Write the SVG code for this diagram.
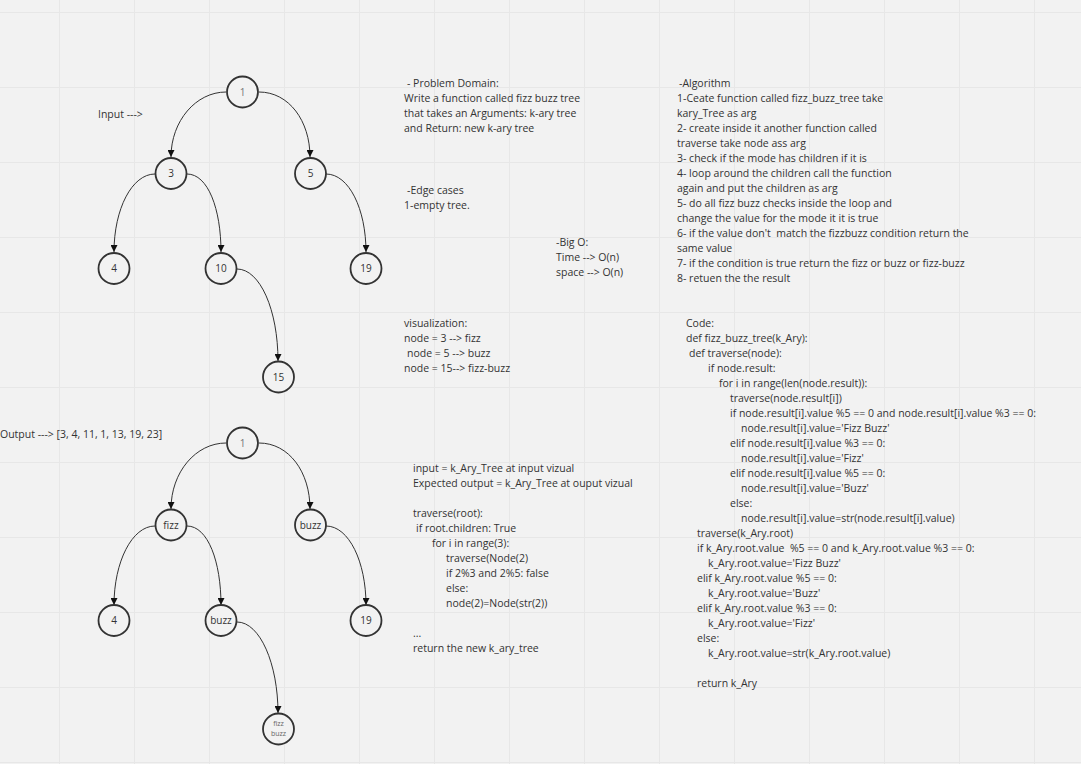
<svg xmlns="http://www.w3.org/2000/svg" width="1081" height="764" viewBox="0 0 1081 764">
<style>
.grid line{stroke:#e7e7e7;stroke-width:1}
.t{font-family:"Open Sans","Noto Sans",sans-serif;font-size:10.5px;fill:#333;white-space:pre}
.node circle{fill:#f2f2f2;stroke:#333;stroke-width:1.8}
.node text{font-family:"Open Sans","Noto Sans",sans-serif;font-size:10px;fill:#333;text-anchor:middle}
.edges path{fill:none;stroke:#333;stroke-width:1}
</style>
<defs>
<marker id="arr" viewBox="0 0 10 10" refX="10" refY="5" markerWidth="8" markerHeight="7" markerUnits="userSpaceOnUse" orient="auto">
<path d="M0,0 L10,5 L0,10 Z" fill="#111"/>
</marker>
</defs>
<rect width="1081" height="764" fill="#f2f2f2"/>
<g class="grid">
<line x1="59.5" y1="0" x2="59.5" y2="764"/><line x1="134.5" y1="0" x2="134.5" y2="764"/><line x1="209.5" y1="0" x2="209.5" y2="764"/><line x1="284.5" y1="0" x2="284.5" y2="764"/><line x1="359.5" y1="0" x2="359.5" y2="764"/><line x1="434.5" y1="0" x2="434.5" y2="764"/><line x1="509.5" y1="0" x2="509.5" y2="764"/><line x1="584.5" y1="0" x2="584.5" y2="764"/><line x1="659.5" y1="0" x2="659.5" y2="764"/><line x1="734.5" y1="0" x2="734.5" y2="764"/><line x1="809.5" y1="0" x2="809.5" y2="764"/><line x1="884.5" y1="0" x2="884.5" y2="764"/><line x1="959.5" y1="0" x2="959.5" y2="764"/><line x1="1034.5" y1="0" x2="1034.5" y2="764"/>
<line x1="0" y1="12.5" x2="1081" y2="12.5"/><line x1="0" y1="87.5" x2="1081" y2="87.5"/><line x1="0" y1="162.5" x2="1081" y2="162.5"/><line x1="0" y1="237.5" x2="1081" y2="237.5"/><line x1="0" y1="312.5" x2="1081" y2="312.5"/><line x1="0" y1="387.5" x2="1081" y2="387.5"/><line x1="0" y1="462.5" x2="1081" y2="462.5"/><line x1="0" y1="537.5" x2="1081" y2="537.5"/><line x1="0" y1="612.5" x2="1081" y2="612.5"/><line x1="0" y1="687.5" x2="1081" y2="687.5"/><line x1="0" y1="762.5" x2="1081" y2="762.5"/>
</g>
<g class="edges">
<path d="M226,92 C196,92 171,121 171,157" marker-end="url(#arr)"/>
<path d="M259,92 C289,92 310,121 310,157" marker-end="url(#arr)"/>
<path d="M155,174 C132,174 114,209 114,252" marker-end="url(#arr)"/>
<path d="M187,174 C208,174 221,209 221,252" marker-end="url(#arr)"/>
<path d="M326,174 C349,174 366,209 366,252" marker-end="url(#arr)"/>
<path d="M237,269 C260,269 278,310 278,361" marker-end="url(#arr)"/>
<path d="M226,443 C196,443 171,472 171,509" marker-end="url(#arr)"/>
<path d="M259,443 C289,443 310,472 310,509" marker-end="url(#arr)"/>
<path d="M155,526 C132,526 114,562 114,605" marker-end="url(#arr)"/>
<path d="M187,526 C208,526 221,562 221,605" marker-end="url(#arr)"/>
<path d="M326,526 C349,526 366,562 366,605" marker-end="url(#arr)"/>
<path d="M237,622 C260,622 278,664 278,713" marker-end="url(#arr)"/>
</g>
<g id="in-1" class="node"><circle cx="242.5" cy="92" r="15.5"/><text x="242.5" y="95.5" style="fill:#777">1</text></g>
<g id="in-3" class="node"><circle cx="171" cy="173.5" r="15.5"/><text x="171" y="177">3</text></g>
<g id="in-5" class="node"><circle cx="310.5" cy="173.5" r="15.5"/><text x="310.5" y="177">5</text></g>
<g id="in-4" class="node"><circle cx="114" cy="268.5" r="15.5"/><text x="114" y="272">4</text></g>
<g id="in-10" class="node"><circle cx="221" cy="268.5" r="15.5"/><text x="221" y="272">10</text></g>
<g id="in-19" class="node"><circle cx="366" cy="268.5" r="15.5"/><text x="366" y="272">19</text></g>
<g id="in-15" class="node"><circle cx="278.5" cy="377" r="15.5"/><text x="278.5" y="380.5">15</text></g>
<g id="out-1" class="node"><circle cx="242.5" cy="443" r="15.5"/><text x="242.5" y="446.5" style="fill:#777">1</text></g>
<g id="out-fizz" class="node"><circle cx="171" cy="525" r="15.5"/><text x="171" y="528.5">fizz</text></g>
<g id="out-buzz" class="node"><circle cx="310.5" cy="525" r="15.5"/><text x="310.5" y="528.5">buzz</text></g>
<g id="out-4" class="node"><circle cx="114" cy="620.5" r="15.5"/><text x="114" y="624">4</text></g>
<g id="out-buzz2" class="node"><circle cx="221" cy="620.5" r="15.5"/><text x="221" y="624">buzz</text></g>
<g id="out-19" class="node"><circle cx="366" cy="620.5" r="15.5"/><text x="366" y="624">19</text></g>
<g id="out-fizzbuzz" class="node"><circle cx="278.5" cy="729" r="15.5"/><text x="278.5" y="725.5" style="font-size:7px;fill:#666">fizz</text><text x="278.5" y="736" style="font-size:7px;fill:#666">buzz</text></g>
<g id="labels">
<text class="t" x="98" y="118">Input ---&gt;</text>
<text class="t" x="0" y="438">Output ---&gt; [3, 4, 11, 1, 13, 19, 23]</text>
</g>
<g id="problem">
<text class="t"><tspan x="407" y="87">- Problem Domain:</tspan><tspan x="404" y="102">Write a function called fizz buzz tree</tspan><tspan x="404" y="117">that takes an Arguments: k-ary tree</tspan><tspan x="404" y="132">and Return: new k-ary tree</tspan></text>
</g>
<g id="edge-cases">
<text class="t"><tspan x="407" y="194">-Edge cases</tspan><tspan x="404" y="209">1-empty tree.</tspan></text>
</g>
<g id="big-o">
<text class="t"><tspan x="556" y="246">-Big O:</tspan><tspan x="556" y="261">Time --&gt; O(n)</tspan><tspan x="556" y="276">space --&gt; O(n)</tspan></text>
</g>
<g id="algorithm">
<text class="t"><tspan x="679" y="87">-Algorithm</tspan><tspan x="677" y="102">1-Ceate function called fizz_buzz_tree take</tspan><tspan x="677" y="117">kary_Tree as arg</tspan><tspan x="677" y="132">2- create inside it another function called</tspan><tspan x="677" y="147">traverse take node ass arg</tspan><tspan x="677" y="162">3- check if the mode has children if it is</tspan><tspan x="677" y="177">4- loop around the children call the function</tspan><tspan x="677" y="192">again and put the children as arg</tspan><tspan x="677" y="207">5- do all fizz buzz checks inside the loop and</tspan><tspan x="677" y="222">change the value for the mode it it is true</tspan><tspan x="677" y="237">6- if the value don't  match the fizzbuzz condition return the</tspan><tspan x="677" y="252">same value</tspan><tspan x="677" y="267">7- if the condition is true return the fizz or buzz or fizz-buzz</tspan><tspan x="677" y="282">8- retuen the the result</tspan></text>
</g>
<g id="visualization">
<text class="t"><tspan x="404" y="327">visualization:</tspan><tspan x="404" y="342">node = 3 --&gt; fizz</tspan><tspan x="407" y="357">node = 5 --&gt; buzz</tspan><tspan x="404" y="372">node = 15--&gt; fizz-buzz</tspan></text>
</g>
<g id="walkthrough">
<text class="t"><tspan x="413" y="472">input = k_Ary_Tree at input vizual</tspan><tspan x="413" y="487">Expected output = k_Ary_Tree at ouput vizual</tspan><tspan x="413" y="517">traverse(root):</tspan><tspan x="416" y="532">if root.children: True</tspan><tspan x="432" y="547">for i in range(3):</tspan><tspan x="446" y="562">traverse(Node(2)</tspan><tspan x="446" y="577">if 2%3 and 2%5: false</tspan><tspan x="446" y="592">else:</tspan><tspan x="446" y="607">node(2)=Node(str(2))</tspan><tspan x="413" y="637">...</tspan><tspan x="413" y="652">return the new k_ary_tree</tspan></text>
</g>
<g id="code">
<text class="t"><tspan x="686" y="327">Code:</tspan><tspan x="686" y="342">def fizz_buzz_tree(k_Ary):</tspan><tspan x="689" y="357">def traverse(node):</tspan><tspan x="708" y="372">if node.result:</tspan><tspan x="719" y="387">for i in range(len(node.result)):</tspan><tspan x="730" y="402">traverse(node.result[i])</tspan><tspan x="730" y="417">if node.result[i].value %5 == 0 and node.result[i].value %3 == 0:</tspan><tspan x="741" y="432">node.result[i].value='Fizz Buzz'</tspan><tspan x="730" y="447">elif node.result[i].value %3 == 0:</tspan><tspan x="741" y="462">node.result[i].value='Fizz'</tspan><tspan x="730" y="477">elif node.result[i].value %5 == 0:</tspan><tspan x="741" y="492">node.result[i].value='Buzz'</tspan><tspan x="730" y="507">else:</tspan><tspan x="741" y="522">node.result[i].value=str(node.result[i].value)</tspan><tspan x="697" y="537">traverse(k_Ary.root)</tspan><tspan x="697" y="552">if k_Ary.root.value  %5 == 0 and k_Ary.root.value %3 == 0:</tspan><tspan x="708" y="567">k_Ary.root.value='Fizz Buzz'</tspan><tspan x="697" y="582">elif k_Ary.root.value %5 == 0:</tspan><tspan x="708" y="597">k_Ary.root.value='Buzz'</tspan><tspan x="697" y="612">elif k_Ary.root.value %3 == 0:</tspan><tspan x="708" y="627">k_Ary.root.value='Fizz'</tspan><tspan x="697" y="642">else:</tspan><tspan x="708" y="657">k_Ary.root.value=str(k_Ary.root.value)</tspan><tspan x="697" y="687">return k_Ary</tspan></text>
</g>
</svg>
